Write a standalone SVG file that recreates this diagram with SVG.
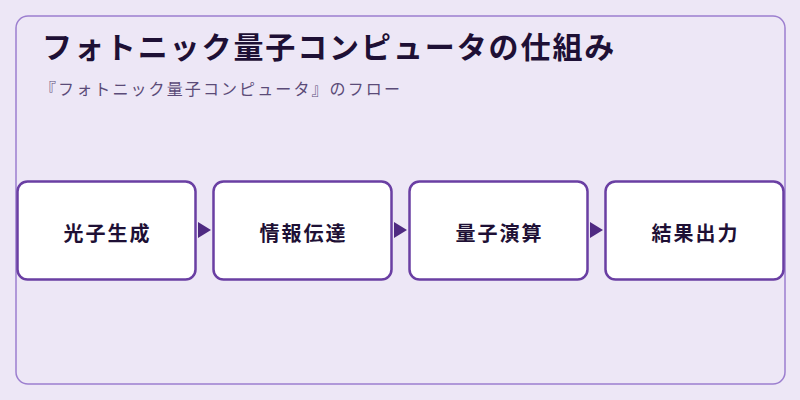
<svg xmlns="http://www.w3.org/2000/svg" width="800" height="400" viewBox="0 0 800 400">
<defs>
<style>
.bg{fill:#ede7f6}
.panel{fill:#ede7f6;stroke:#9c7fcf;stroke-width:1.5}
.title{font-family:"Noto Sans CJK JP","Noto Sans",sans-serif;font-size:30px;font-weight:700;fill:#1e1035;letter-spacing:1.9px}
.sub{font-family:"Noto Sans CJK JP","Noto Sans",sans-serif;font-size:16px;font-weight:400;fill:#5b4b78;letter-spacing:2.1px}
.box{fill:#ffffff;stroke:#6a3fa3;stroke-width:2.5}
.lbl{font-family:"Noto Sans CJK JP","Noto Sans",sans-serif;font-size:20px;font-weight:700;fill:#1e1035;letter-spacing:2px;text-anchor:middle}
.arrow{fill:#4f2a82}
</style>
</defs>
<rect class="bg" x="0" y="0" width="800" height="400"/>
<rect class="panel" x="16" y="16" width="769" height="368" rx="12"/>
<text class="title" x="42" y="58">フォトニック量子コンピュータの仕組み</text>
<text class="sub" x="40" y="95">『フォトニック量子コンピュータ』のフロー</text>
<g id="connectors">
<polygon class="arrow" points="198,222 211,230 198,238"/>
<polygon class="arrow" points="394,222 407,230 394,238"/>
<polygon class="arrow" points="590,222 603,230 590,238"/>
</g>
<g id="node1"><rect class="box" x="17.5" y="181.5" width="178" height="98" rx="10"/><text class="lbl" x="107.5" y="241">光子生成</text></g>
<g id="node2"><rect class="box" x="213.5" y="181.5" width="178" height="98" rx="10"/><text class="lbl" x="303.5" y="241">情報伝達</text></g>
<g id="node3"><rect class="box" x="409.5" y="181.5" width="178" height="98" rx="10"/><text class="lbl" x="499.5" y="241">量子演算</text></g>
<g id="node4"><rect class="box" x="605.5" y="181.5" width="178" height="98" rx="10"/><text class="lbl" x="695.5" y="241">結果出力</text></g>
</svg>
